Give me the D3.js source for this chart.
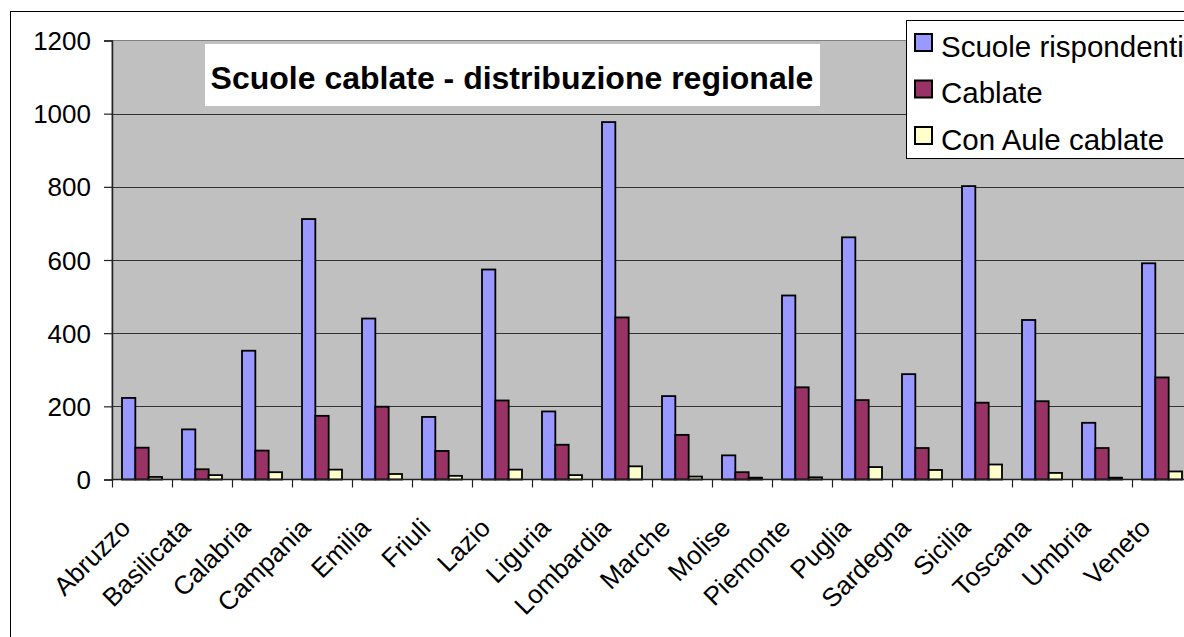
<!DOCTYPE html>
<html>
<head>
<meta charset="utf-8">
<script src="https://cdn.jsdelivr.net/npm/d3@7"></script>
<style>
  html, body { margin: 0; padding: 0; background: #fff; overflow: hidden; }
  svg { display: block; font-family: "Liberation Sans", Arial, sans-serif; }
</style>
</head>
<body>
<svg width="1184" height="637"></svg>
<script>
const regions = ["Abruzzo", "Basilicata", "Calabria", "Campania", "Emilia", "Friuli",
  "Lazio", "Liguria", "Lombardia", "Marche", "Molise", "Piemonte", "Puglia",
  "Sardegna", "Sicilia", "Toscana", "Umbria", "Veneto"];
const scuoleRispondenti = [223, 137, 352, 712, 440, 171, 574, 186, 977, 228, 66, 503, 662, 288, 802, 436, 155, 591];
const cablate = [87, 28, 79, 174, 199, 78, 216, 95, 443, 122, 20, 252, 217, 86, 210, 214, 86, 279];
const conAuleCablate = [7, 12, 20, 27, 15, 10, 27, 12, 36, 8, 5, 6, 34, 26, 41, 18, 5, 22];
const seriesNames = ["Scuole rispondenti", "Cablate", "Con Aule cablate"];
const yTicks = [0, 200, 400, 600, 800, 1000, 1200];

const seriesValues = [scuoleRispondenti, cablate, conAuleCablate];
const colors = ["#9999ff", "#993366", "#ffffcc"];
const TITLE = "Scuole cablate - distribuzione regionale";

const plot = { left: 112, right: 1192, top: 40.5, bottom: 479.5 };

const svg = d3.select("svg");

// outer chart frame (runs off the right and bottom edges)
svg.append("rect")
  .attr("x", 10.5).attr("y", 11.5)
  .attr("width", 1400).attr("height", 900)
  .attr("fill", "#fff").attr("stroke", "#000").attr("stroke-width", 1);

const x = d3.scaleBand().domain(regions).range([plot.left, plot.right]).padding(0);
const xs = d3.scaleBand().domain(d3.range(3))
  .range([0, x.bandwidth()]).paddingInner(0).paddingOuter(0.75);
const y = d3.scaleLinear().domain([0, 1200]).range([plot.bottom, plot.top]);

// plot area
svg.append("rect")
  .attr("x", plot.left).attr("y", plot.top)
  .attr("width", plot.right - plot.left).attr("height", plot.bottom - plot.top)
  .attr("fill", "#c0c0c0").attr("stroke", "#808080").attr("stroke-width", 1);

// gridlines
svg.append("g")
  .selectAll("line")
  .data(yTicks.filter(d => d > 0 && d < 1200))
  .join("line")
  .attr("x1", plot.left).attr("x2", plot.right)
  .attr("y1", d => Math.round(y(d)) + 0.5).attr("y2", d => Math.round(y(d)) + 0.5)
  .attr("stroke", "#333").attr("stroke-width", 1);

// bars
const groups = svg.append("g")
  .selectAll("g")
  .data(regions)
  .join("g")
  .attr("transform", d => `translate(${x(d)},0)`);

groups.selectAll("rect")
  .data((d, i) => seriesValues.map((s, k) => ({ k, v: s[i] })))
  .join("rect")
  .attr("x", d => xs(d.k))
  .attr("width", xs.bandwidth())
  .attr("y", d => y(d.v))
  .attr("height", d => y(0) - y(d.v))
  .attr("fill", d => colors[d.k])
  .attr("stroke", "#000")
  .attr("stroke-width", 1.8);

// y axis
const yAxis = d3.axisLeft(y).tickValues(yTicks).tickFormat(d3.format("d"))
  .tickSize(8).tickPadding(13);
const gy = svg.append("g")
  .attr("transform", `translate(${plot.left},0)`)
  .call(yAxis);
gy.select(".domain").attr("stroke", "#222").attr("stroke-width", 1.5);
gy.selectAll(".tick line").attr("stroke", "#222").attr("stroke-width", 1.2);
gy.selectAll(".tick text")
  .attr("font-family", "Liberation Sans, Arial, sans-serif")
  .attr("font-size", 26).attr("fill", "#000").attr("dy", "0.35em");

// x axis baseline and category ticks
svg.append("line")
  .attr("x1", plot.left).attr("x2", plot.right)
  .attr("y1", plot.bottom).attr("y2", plot.bottom)
  .attr("stroke", "#222").attr("stroke-width", 1.5);

svg.append("g")
  .selectAll("line")
  .data(regions)
  .join("line")
  .attr("x1", d => x(d) + 0.5).attr("x2", d => x(d) + 0.5)
  .attr("y1", plot.bottom).attr("y2", plot.bottom + 8)
  .attr("stroke", "#222").attr("stroke-width", 1.2);

svg.append("g")
  .selectAll("text")
  .data(regions)
  .join("text")
  .attr("transform", d => `translate(${x(d) + x.bandwidth() / 2 - 10},${plot.bottom + 50}) rotate(-45)`)
  .attr("text-anchor", "end")
  .attr("font-size", 26)
  .attr("fill", "#000")
  .text(d => d);

// title box
svg.append("rect")
  .attr("x", 205).attr("y", 44)
  .attr("width", 615).attr("height", 62)
  .attr("fill", "#fff");
svg.append("text")
  .attr("x", 512).attr("y", 89)
  .attr("text-anchor", "middle")
  .attr("font-size", 32)
  .attr("font-weight", "bold")
  .attr("fill", "#000")
  .text(TITLE);

// legend
const legend = svg.append("g");
legend.append("rect")
  .attr("x", 906.5).attr("y", 20.5)
  .attr("width", 320).attr("height", 138)
  .attr("fill", "#fff").attr("stroke", "#000").attr("stroke-width", 1);

const items = legend.selectAll("g")
  .data(seriesNames)
  .join("g")
  .attr("transform", (d, i) => `translate(915,${34 + i * 46.5})`);
items.append("rect")
  .attr("width", 17).attr("height", 17)
  .attr("fill", (d, i) => colors[i])
  .attr("stroke", "#000").attr("stroke-width", 2);
items.append("text")
  .attr("x", 26).attr("y", 22.5)
  .attr("font-size", 29.5)
  .attr("fill", "#000")
  .text(d => d);
</script>
</body>
</html>
